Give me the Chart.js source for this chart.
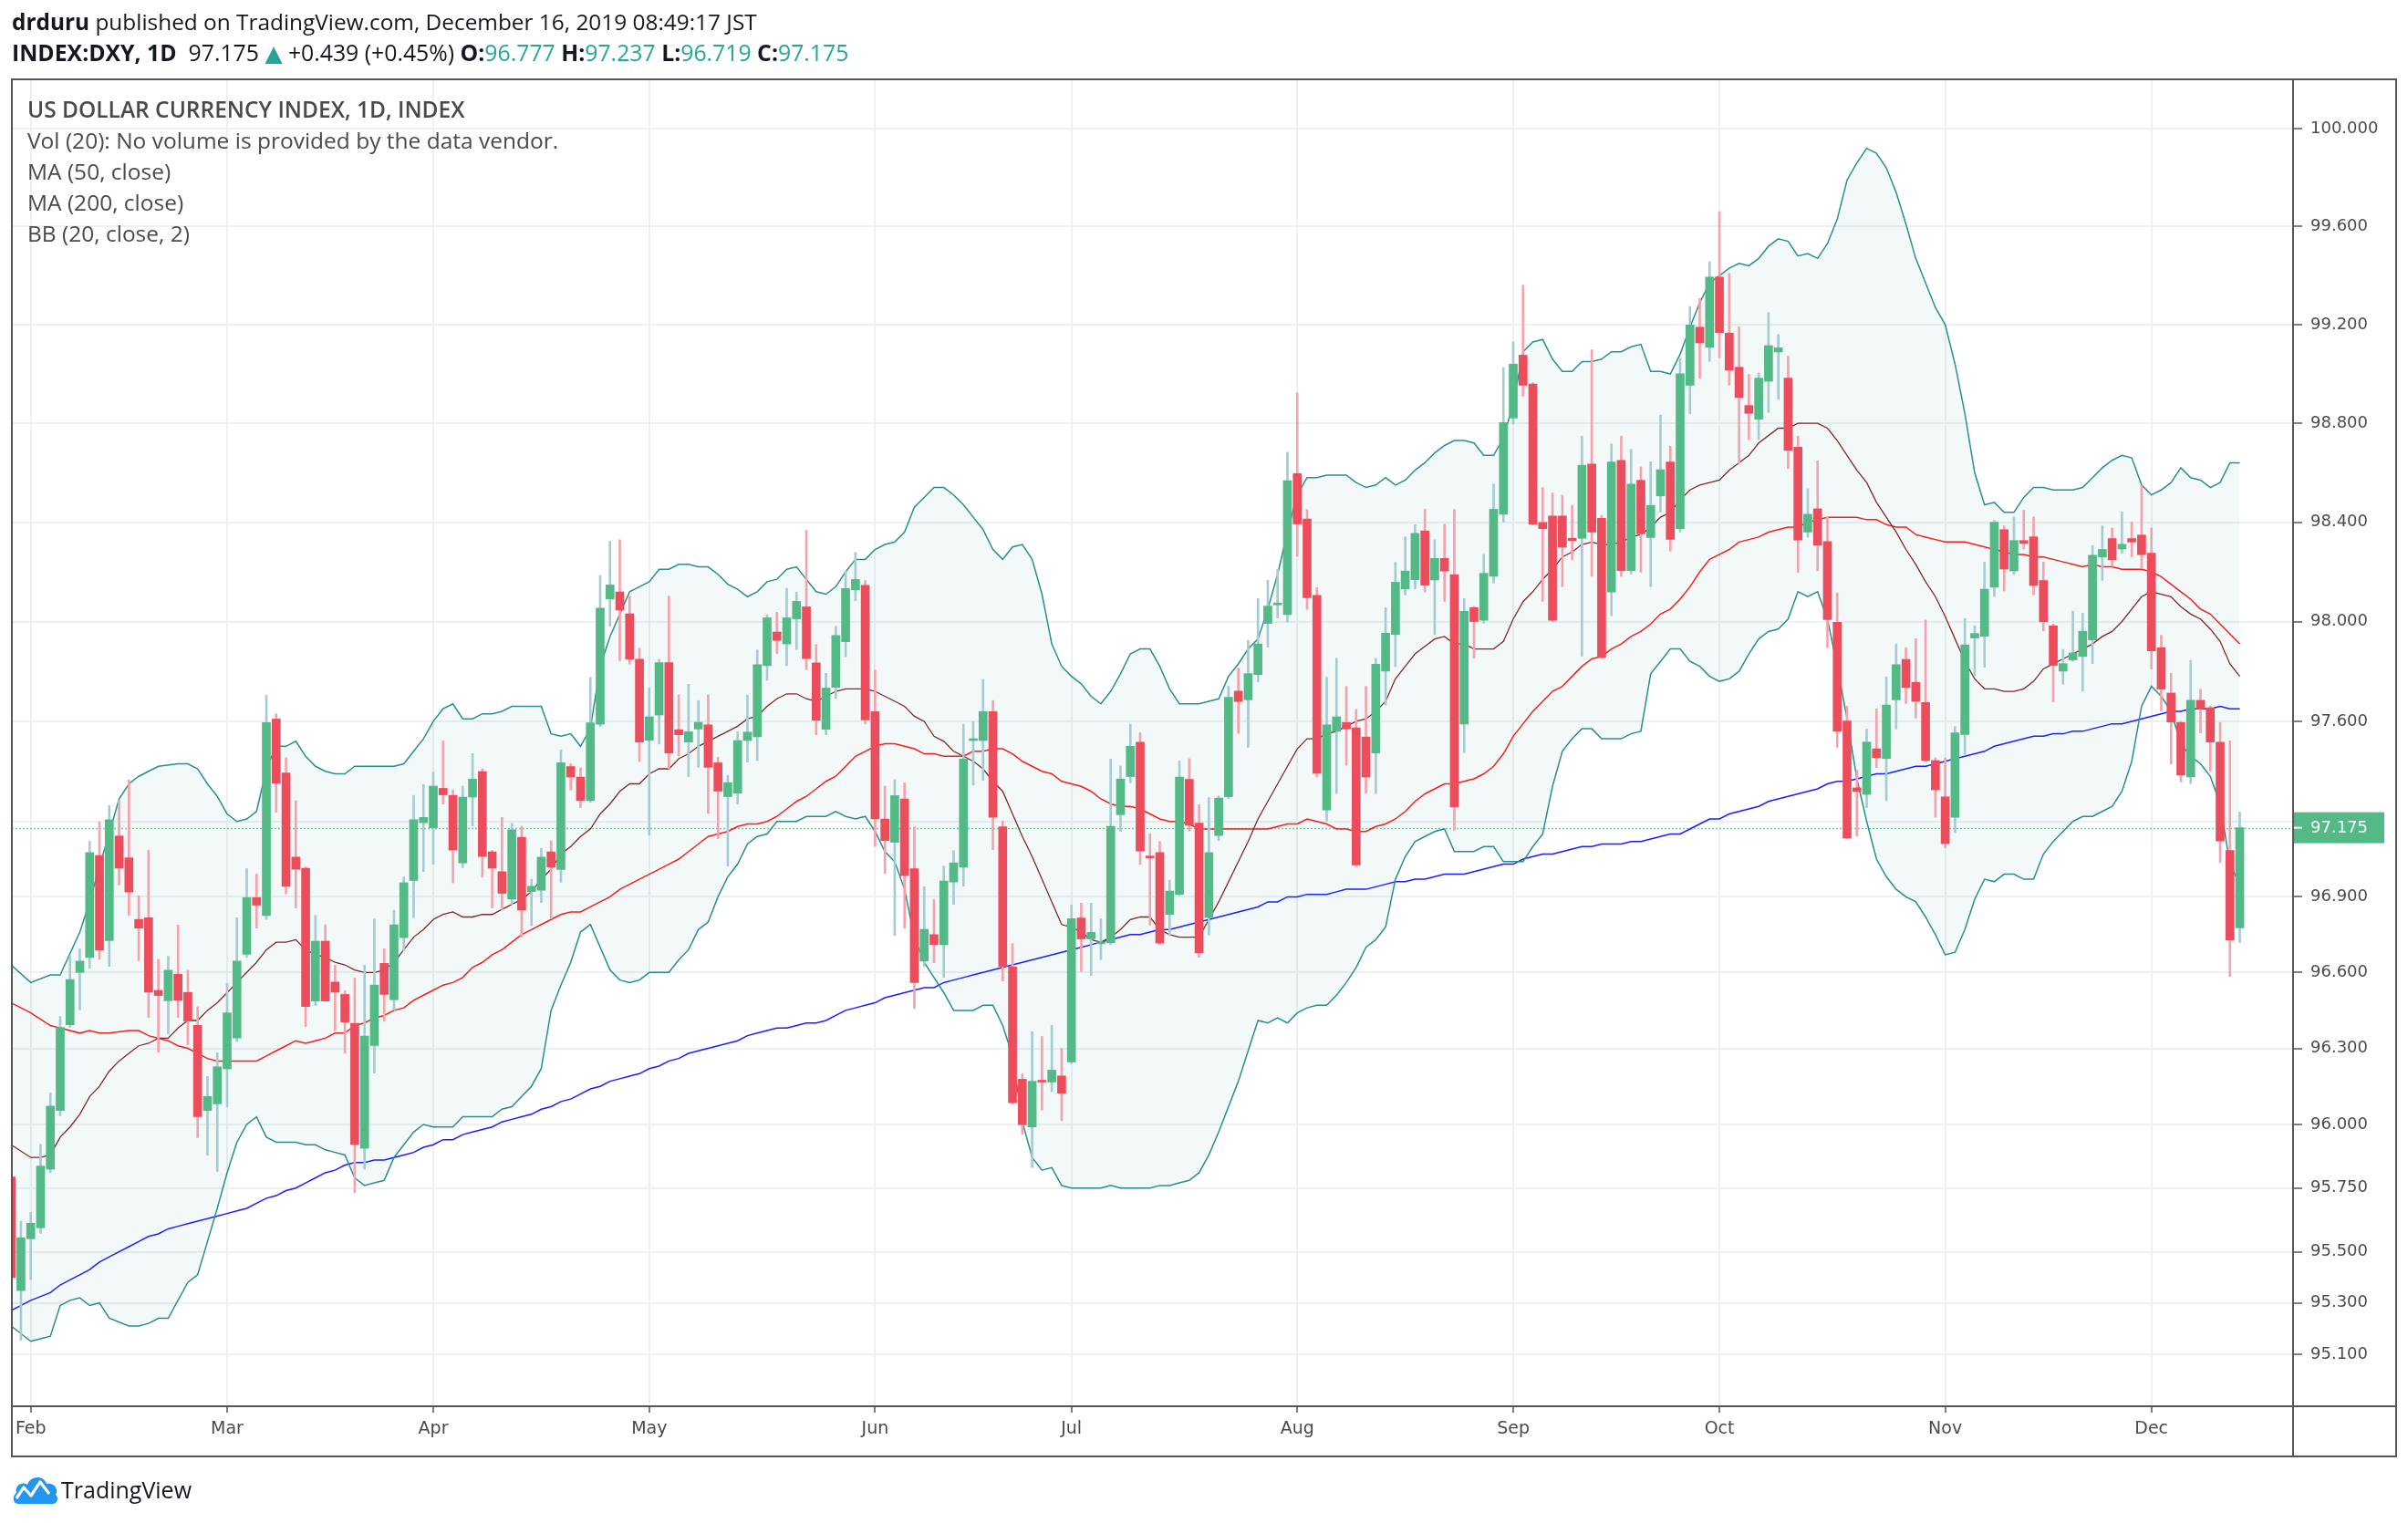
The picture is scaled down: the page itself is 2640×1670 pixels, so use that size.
<!DOCTYPE html>
<html><head><meta charset="utf-8">
<script src="https://cdn.jsdelivr.net/npm/chart.js@4.4.1/dist/chart.umd.min.js"></script>
<style>
html,body{margin:0;padding:0;background:#fff;}
#wrap{position:relative;width:2640px;height:1670px;overflow:hidden;background:#fff;}
#c{position:absolute;left:0;top:0;z-index:1;}
.t{position:absolute;white-space:nowrap;font-family:'Open Sans',sans-serif;z-index:2;}
.g{color:#26a69a;}
.lg{left:30px;font-size:24.5px;color:#4a4a4a;line-height:34px;}
</style></head><body>
<div id="wrap">
<canvas id="c" width="2640" height="1670"></canvas>
<div class="t" style="left:13px;top:8px;font-size:24.4px;line-height:32px;color:#131722"><b>drduru</b> published on TradingView.com, December 16, 2019 08:49:17 JST</div>
<div class="t" style="left:13px;top:41px;font-size:24.8px;line-height:32px;color:#131722"><b>INDEX:DXY, 1D</b>&nbsp; 97.175 <span class="g" style="font-family:'DejaVu Sans'">▲</span> +0.439 (+0.45%) <b>O:</b><span class="g">96.777</span> <b>H:</b><span class="g">97.237</span> <b>L:</b><span class="g">96.719</span> <b>C:</b><span class="g">97.175</span></div>
<div class="t lg" style="top:103px;">
<div style="font-weight:600">US DOLLAR CURRENCY INDEX, 1D, INDEX</div>
<div>Vol (20): No volume is provided by the data vendor.</div>
<div>MA (50, close)</div>
<div>MA (200, close)</div>
<div>BB (20, close, 2)</div>
</div>
<svg width="52" height="34" viewBox="0 0 52 34" style="position:absolute;left:13px;top:1616px;z-index:2">
<path d="M7 33 C1 33 0 24 5 21 C3 12 12 8 17 12 C20 2 35 1 38 11 C46 9 52 17 48 23 C53 28 48 34 43 33 Z" fill="#2196f3"/>
<polyline points="5,27 13,15 21,24 31,9 41,22" fill="none" stroke="#fff" stroke-width="3.2" stroke-linejoin="round"/>
</svg>
<div class="t" style="left:67px;top:1616px;font-size:25px;line-height:34px;color:#131722">TradingView</div>
</div>
<script>
// ---- data: daily candles, first candle index = -2 (Jan 30, 2019); index 0 = Feb 1, 2019 ----
const firstIndex = -2;
const openP = [
95.793,95.348,95.551,95.594,95.824,96.055,96.393,96.600,96.659,97.064,
96.726,97.142,97.055,96.810,96.817,96.529,96.488,96.593,96.521,96.391,
96.055,96.081,96.219,96.341,96.672,96.897,96.826,97.609,97.393,97.058,
97.014,96.487,96.724,96.562,96.513,96.399,95.906,96.311,96.636,96.492,
96.738,96.965,97.195,97.174,97.332,97.304,97.035,97.297,97.399,97.079,
97.000,96.891,97.137,96.921,96.926,97.079,97.009,97.419,97.377,97.283,
97.588,98.091,98.119,98.031,97.849,97.524,97.625,97.835,97.566,97.517,
97.569,97.586,97.434,97.299,97.313,97.523,97.538,97.823,97.958,97.910,
98.011,98.059,97.834,97.568,97.736,97.919,98.127,98.146,97.639,97.210,
97.117,97.290,97.012,96.645,96.750,96.710,96.959,97.018,97.523,97.523,
97.639,97.179,96.623,96.178,95.990,96.172,96.167,96.191,96.246,96.816,
96.733,96.714,96.718,97.227,97.379,97.516,97.062,97.076,96.830,96.910,
97.368,97.193,96.818,97.144,97.298,97.721,97.686,97.787,97.992,98.067,
98.028,98.596,98.413,98.105,97.246,97.560,97.595,97.574,97.537,97.473,
97.801,97.948,98.131,98.168,98.365,98.167,98.254,98.189,97.589,98.056,
98.005,98.182,98.432,98.821,99.076,98.959,98.399,98.425,98.425,98.335,
98.335,98.635,98.416,98.119,98.650,98.205,98.569,98.338,98.506,98.643,
98.374,98.954,99.190,99.108,99.394,99.166,99.027,98.872,98.816,98.970,
99.089,98.983,98.703,98.360,98.454,98.322,97.997,97.601,97.334,97.308,
97.490,97.451,97.686,97.848,97.756,97.675,97.443,97.298,97.217,97.547,
97.934,97.941,98.138,98.370,98.204,98.326,98.341,98.165,97.983,97.801,
97.846,97.860,97.926,98.260,98.334,98.292,98.334,98.348,98.275,97.895,
97.713,97.595,97.378,97.684,97.654,97.516,97.084,96.777];
const highP = [
95.820,95.620,95.655,95.922,96.124,96.426,96.664,96.693,97.121,97.199,
97.264,97.285,97.366,96.904,97.086,96.652,96.664,96.788,96.609,96.464,
96.189,96.283,96.557,96.817,97.012,96.990,97.704,97.630,97.454,97.283,
97.019,96.826,96.789,96.629,96.527,96.578,96.629,96.812,96.694,96.847,
96.979,97.304,97.348,97.397,97.522,97.325,97.341,97.471,97.410,97.084,
97.216,97.193,97.181,96.970,97.093,97.123,97.485,97.430,97.414,97.776,
98.185,98.323,98.329,98.102,97.893,97.733,97.848,98.102,97.706,97.748,
97.683,97.706,97.457,97.384,97.558,97.705,97.886,98.028,98.037,98.133,
98.118,98.367,97.908,97.792,97.981,98.203,98.278,98.165,97.806,97.341,
97.367,97.354,97.179,96.940,96.889,97.022,97.084,97.588,97.599,97.768,
97.683,97.202,96.714,96.199,96.366,96.347,96.391,96.300,96.868,96.875,
96.875,96.813,97.449,97.421,97.588,97.554,97.150,97.120,96.966,97.441,
97.450,97.267,97.295,97.302,97.740,97.813,97.924,98.093,98.166,98.210,
98.683,98.923,98.451,98.137,97.777,97.852,97.740,97.648,97.740,97.852,
98.056,98.238,98.341,98.390,98.452,98.329,98.392,98.452,98.092,98.060,
98.270,98.554,99.026,99.130,99.361,98.965,98.540,98.518,98.509,98.468,
98.747,99.098,98.428,98.716,98.747,98.695,98.623,98.644,98.833,98.707,
99.062,99.274,99.307,99.456,99.661,99.409,99.192,98.998,99.004,99.249,
99.160,99.072,98.748,98.535,98.648,98.422,98.115,97.660,97.404,97.569,
97.650,97.778,97.910,97.895,97.931,98.006,97.454,97.454,97.579,98.012,
97.983,98.239,98.407,98.385,98.421,98.449,98.421,98.239,97.990,97.888,
98.042,98.034,98.306,98.385,98.377,98.442,98.400,98.549,98.377,97.945,
97.792,97.600,97.844,97.728,97.661,97.595,97.522,97.237];
const lowP = [
95.370,95.154,95.391,95.572,95.810,96.034,96.383,96.452,96.617,96.652,
96.624,96.947,96.826,96.647,96.422,96.284,96.357,96.422,96.314,95.948,
95.879,95.815,96.069,96.327,96.659,96.776,96.810,97.237,96.912,96.856,
96.386,96.469,96.487,96.369,96.281,95.731,95.824,96.202,96.407,96.451,
96.685,96.817,97.000,97.030,97.269,96.956,97.016,97.181,96.979,96.856,
96.849,96.870,96.741,96.785,96.877,96.812,96.958,97.325,97.255,97.276,
97.579,97.981,97.843,97.829,97.439,97.145,97.509,97.411,97.461,97.378,
97.416,97.232,97.131,97.022,97.269,97.437,97.443,97.764,97.872,97.823,
97.888,97.807,97.546,97.546,97.691,97.858,98.084,97.590,97.101,96.993,
96.746,96.775,96.457,96.623,96.638,96.581,96.870,96.942,97.345,97.364,
97.088,96.566,96.080,95.961,95.830,96.057,96.129,96.015,96.240,96.604,
96.588,96.651,96.710,97.160,97.354,97.029,96.788,96.710,96.748,96.905,
97.162,96.660,96.748,97.123,97.290,97.551,97.496,97.758,97.897,98.014,
97.997,98.262,98.049,97.377,97.202,97.312,97.424,97.020,97.312,97.312,
97.665,97.819,98.107,98.131,98.119,97.948,98.081,97.165,97.474,97.852,
97.993,98.155,98.401,98.797,98.909,98.389,98.081,98.000,98.140,98.248,
97.861,98.182,97.850,98.023,98.182,98.191,98.198,98.140,98.441,98.284,
98.360,98.839,98.983,99.051,99.066,98.955,98.637,98.733,98.733,98.844,
98.897,98.616,98.198,98.339,98.204,97.895,97.496,97.130,97.142,97.255,
97.415,97.283,97.569,97.671,97.613,97.440,97.217,97.095,97.155,97.468,
97.782,97.817,98.101,98.123,98.189,98.292,98.108,97.962,97.678,97.749,
97.840,97.721,97.831,98.165,98.222,98.275,98.260,98.215,97.809,97.642,
97.429,97.358,97.351,97.553,97.401,97.036,96.584,96.719];
const closeP = [
95.399,95.555,95.612,95.836,96.072,96.383,96.572,96.645,97.076,96.688,
97.207,97.014,96.919,96.776,96.522,96.509,96.609,96.490,96.408,96.031,
96.110,96.227,96.440,96.645,96.897,96.867,97.595,97.352,96.942,97.010,
96.465,96.724,96.487,96.522,96.404,95.921,96.348,96.550,96.513,96.789,
96.956,97.207,97.216,97.341,97.306,97.086,97.297,97.369,97.060,97.014,
96.914,97.167,96.847,96.942,97.058,97.018,97.434,97.377,97.283,97.594,
98.054,98.147,98.046,97.849,97.517,97.618,97.835,97.473,97.546,97.558,
97.596,97.416,97.321,97.355,97.523,97.557,97.827,98.015,97.924,98.015,
98.081,97.851,97.604,97.733,97.944,98.133,98.169,97.605,97.210,97.124,
97.303,96.984,96.560,96.771,96.710,96.963,97.035,97.449,97.529,97.639,
97.217,96.623,96.085,95.999,96.170,96.167,96.214,96.123,96.813,96.733,
96.759,96.721,97.181,97.369,97.500,97.082,97.055,96.716,96.923,97.377,
97.185,96.678,97.076,97.293,97.696,97.679,97.791,97.910,98.062,98.070,
98.568,98.393,98.096,97.392,97.586,97.618,97.569,97.027,97.377,97.829,
97.953,98.158,98.203,98.355,98.146,98.254,98.203,97.258,98.041,98.000,
98.194,98.452,98.803,99.040,98.954,98.392,98.374,98.005,98.299,98.326,
98.630,98.360,97.856,98.643,98.205,98.554,98.353,98.468,98.612,98.331,
99.001,99.199,99.126,99.394,99.168,99.015,98.904,98.840,98.983,99.115,
99.106,98.690,98.328,98.432,98.307,98.008,97.560,97.134,97.319,97.517,
97.454,97.665,97.827,97.735,97.680,97.443,97.326,97.112,97.554,97.906,
97.952,98.130,98.400,98.211,98.326,98.314,98.145,97.999,97.824,97.831,
97.874,97.961,98.267,98.290,98.248,98.311,98.320,98.269,97.882,97.729,
97.597,97.385,97.684,97.649,97.517,97.122,96.729,97.175];
// Bollinger Bands (20, close, 2)
const bbUpper = [
96.63,null,96.56,null,96.59,96.59,null,96.76,96.88,97.02,
null,97.29,97.35,97.38,null,97.42,null,97.43,97.43,97.41,
97.35,97.30,97.23,97.20,97.21,97.24,97.41,97.50,97.50,97.52,
97.46,97.42,97.40,97.39,97.39,97.42,97.42,97.42,97.42,97.42,
97.43,97.48,97.53,97.60,97.65,97.67,97.61,97.61,97.63,97.63,
97.64,97.66,97.66,97.66,97.66,97.55,97.54,97.55,97.50,97.57,
97.82,97.94,98.03,98.12,98.14,98.16,98.21,98.21,98.23,98.23,
98.22,98.22,98.19,98.15,98.13,98.10,98.12,98.16,98.17,98.21,
98.22,98.17,98.12,98.11,98.14,98.20,98.25,98.25,98.29,98.31,
98.32,98.36,98.46,98.50,98.54,98.54,98.51,98.47,98.42,98.37,
98.29,98.25,98.30,98.31,98.25,98.11,97.91,97.82,97.78,97.75,
97.70,97.67,97.72,97.79,97.87,97.89,97.89,97.82,97.73,97.67,
97.67,97.67,97.68,97.69,97.78,97.83,97.89,97.93,98.05,98.19,
98.36,98.51,98.58,98.58,98.59,98.59,98.59,98.56,98.54,98.55,
98.58,98.55,98.57,98.61,98.64,98.68,98.71,98.73,98.73,98.72,
98.67,98.67,98.74,98.88,99.09,99.13,99.14,99.06,99.01,99.01,
99.05,99.05,99.06,99.09,99.09,99.11,99.12,99.01,99.01,99.00,
99.08,99.19,99.29,99.37,99.40,99.43,99.45,99.44,99.47,99.52,
99.55,99.54,99.48,99.49,99.47,99.53,99.63,99.79,99.86,99.92,
99.90,99.84,99.74,99.61,99.47,99.37,99.27,99.20,99.04,98.84,
98.60,98.47,98.48,98.44,98.44,98.50,98.54,98.54,98.53,98.53,
98.53,98.54,98.58,98.62,98.65,98.67,98.66,98.55,98.51,98.53,
98.56,98.62,98.58,98.57,98.54,98.56,98.64,98.64];
const bbLower = [
95.21,null,95.15,95.16,95.17,95.29,95.31,95.32,95.29,95.30,
95.24,null,95.21,95.21,95.22,95.24,95.24,95.31,95.38,95.41,
95.54,95.67,95.81,95.93,96.00,96.03,95.95,95.93,95.93,95.93,
95.92,95.92,95.90,95.89,95.88,95.79,95.76,95.77,95.78,95.87,
95.92,95.97,96.00,95.99,95.99,95.99,96.03,96.03,96.03,96.03,
96.06,96.07,96.11,96.15,96.22,96.45,96.55,96.64,96.76,96.79,
96.70,96.61,96.57,96.56,96.57,96.60,96.60,96.60,96.65,96.69,
96.77,96.80,96.90,96.98,97.03,97.11,97.14,97.15,97.20,97.20,
97.20,97.22,97.22,97.22,97.24,97.22,97.21,97.22,97.16,97.08,
97.04,96.93,96.74,96.64,96.58,96.52,96.45,96.45,96.45,96.47,
96.47,96.39,96.27,96.01,95.87,95.82,95.83,95.76,95.75,95.75,
95.75,95.75,95.76,95.75,95.75,95.75,95.75,95.76,95.76,95.77,
95.78,95.81,95.88,95.97,96.07,96.17,96.29,96.41,96.40,96.42,
96.40,96.44,96.46,96.47,96.47,96.51,96.56,96.62,96.70,96.73,
96.78,96.97,97.06,97.12,97.14,97.16,97.17,97.08,97.08,97.08,
97.10,97.10,97.04,97.04,97.04,97.10,97.15,97.34,97.48,97.53,
97.57,97.57,97.53,97.53,97.53,97.55,97.56,97.79,97.84,97.89,
97.89,97.84,97.82,97.78,97.76,97.77,97.80,97.87,97.93,97.96,
97.97,98.01,98.12,98.10,98.12,98.01,97.82,97.61,97.37,97.20,
97.05,96.98,96.93,96.90,96.88,96.82,96.75,96.67,96.68,96.77,
96.89,96.97,96.96,96.99,96.99,96.97,96.97,97.07,97.12,97.16,
97.20,97.22,97.22,97.24,97.26,97.32,97.44,97.66,97.74,97.70,
97.64,97.51,97.46,97.43,97.38,97.27,97.03,96.95];
const bbBasis = [
95.92,null,95.87,95.87,95.88,95.95,95.99,96.04,96.11,96.15,
96.21,96.25,96.28,96.31,96.32,96.34,96.34,96.38,96.41,96.41,
96.45,96.48,96.52,96.56,96.60,96.64,96.69,96.72,96.72,96.73,
96.69,96.67,96.66,96.64,96.63,96.61,96.60,96.60,96.61,96.64,
96.69,96.74,96.77,96.81,96.83,96.84,96.82,96.82,96.83,96.83,
96.85,96.87,96.89,96.92,96.97,97.01,97.07,97.10,97.14,97.17,
97.23,97.27,97.32,97.35,97.35,97.39,97.41,97.41,97.45,97.47,
97.50,97.52,97.54,97.56,97.58,97.61,97.62,97.66,97.69,97.71,
97.71,97.69,97.68,97.70,97.72,97.73,97.73,97.73,97.72,97.70,
97.68,97.66,97.62,97.60,97.54,97.52,97.48,97.46,97.44,97.41,
97.36,97.32,97.23,97.14,97.06,96.97,96.88,96.79,96.78,96.76,
96.73,96.72,96.74,96.77,96.81,96.82,96.82,96.77,96.75,96.74,
96.74,96.74,96.81,96.88,96.96,97.04,97.12,97.21,97.28,97.35,
97.42,97.49,97.53,97.53,97.55,97.56,97.58,97.60,97.61,97.64,
97.68,97.77,97.82,97.87,97.90,97.93,97.94,97.91,97.91,97.89,
97.89,97.89,97.92,98.01,98.08,98.12,98.17,98.21,98.26,98.28,
98.31,98.32,98.31,98.31,98.32,98.34,98.35,98.38,98.42,98.44,
98.49,98.53,98.55,98.56,98.57,98.61,98.64,98.67,98.72,98.75,
98.78,98.78,98.80,98.80,98.80,98.78,98.73,98.67,98.61,98.56,
98.48,98.42,98.36,98.29,98.23,98.16,98.10,98.02,97.93,97.84,
97.77,97.73,97.73,97.72,97.72,97.73,97.76,97.81,97.83,97.85,
97.87,97.89,97.91,97.94,97.96,98.00,98.05,98.10,98.12,98.11,
98.10,98.06,98.03,98.01,97.97,97.92,97.83,97.78];
const ma50 = [
96.48,null,96.44,null,96.39,96.38,null,96.36,96.37,96.36,
96.36,null,96.37,96.37,96.35,96.34,96.33,96.31,96.30,96.28,
96.26,96.25,96.25,96.25,96.25,96.25,96.27,96.29,96.31,96.33,
96.32,96.33,96.34,96.36,96.36,96.39,96.40,96.42,96.43,96.45,
96.46,96.49,96.51,96.53,96.55,96.56,96.58,96.62,96.64,96.67,
96.69,96.72,96.75,96.77,96.79,96.81,96.83,96.84,96.84,96.86,
96.88,96.90,96.93,96.95,96.97,96.99,97.01,97.03,97.05,97.08,
97.11,97.14,97.15,97.16,97.18,97.19,97.19,97.20,97.22,97.25,
97.28,97.30,97.33,97.36,97.38,97.42,97.46,97.48,97.50,97.51,
97.51,97.50,97.49,97.47,97.47,97.46,97.46,97.46,97.48,97.48,
97.49,97.49,97.47,97.44,97.42,97.40,97.39,97.36,97.35,97.34,
97.32,97.29,97.27,97.26,97.26,97.25,97.23,97.21,97.20,97.20,
97.19,97.17,97.17,97.17,97.17,97.17,97.17,97.17,97.17,97.18,
97.19,97.19,97.21,97.20,97.19,97.17,97.17,97.16,97.16,97.18,
97.19,97.21,97.24,97.28,97.31,97.33,97.35,97.35,97.36,97.37,
97.39,97.42,97.47,97.54,97.59,97.64,97.68,97.72,97.74,97.78,
97.82,97.85,97.86,97.89,97.91,97.94,97.96,97.99,98.03,98.05,
98.09,98.14,98.20,98.25,98.27,98.29,98.32,98.33,98.34,98.36,
98.37,98.38,98.38,98.40,98.41,98.42,98.42,98.42,98.42,98.41,
98.41,98.39,98.38,98.38,98.35,98.34,98.33,98.32,98.32,98.32,
98.31,98.30,98.29,98.28,98.27,98.27,98.26,98.26,98.25,98.24,
98.23,98.22,98.23,98.22,98.22,98.21,98.21,98.21,98.20,98.18,
98.15,98.12,98.09,98.05,98.03,97.99,97.95,97.91];
const ma200 = [
95.27,null,95.31,null,95.34,95.37,95.39,95.41,95.43,95.46,
95.48,null,95.52,95.54,95.56,95.57,95.59,95.60,95.61,95.62,
95.63,95.64,95.65,95.66,95.67,95.69,95.71,95.72,95.74,95.75,
95.77,95.79,95.81,95.82,95.84,95.85,95.85,95.86,95.86,95.87,
95.88,95.89,95.91,95.92,95.94,95.94,95.96,95.97,95.98,95.99,
96.01,96.02,96.03,96.04,96.06,96.07,96.09,96.10,96.12,96.14,
96.15,96.17,96.18,96.19,96.20,96.22,96.23,96.25,96.26,96.28,
96.29,96.30,96.31,96.32,96.33,96.35,96.36,96.37,96.38,96.38,
96.39,96.40,96.40,96.41,96.43,96.45,96.46,96.47,96.48,96.50,
96.51,96.52,96.53,96.54,96.54,96.56,96.57,96.58,96.59,96.60,
96.61,96.62,96.63,96.64,96.65,96.66,96.67,96.68,96.69,96.70,
96.71,96.72,96.73,96.74,96.75,96.75,96.76,96.77,96.77,96.78,
96.79,96.80,96.81,96.82,96.83,96.84,96.85,96.86,96.88,96.88,
96.90,96.90,96.91,96.91,96.91,96.92,96.93,96.93,96.93,96.94,
96.95,96.96,96.96,96.97,96.97,96.98,96.99,96.99,96.99,97.00,
97.01,97.02,97.03,97.03,97.05,97.06,97.07,97.07,97.08,97.09,
97.10,97.10,97.11,97.11,97.11,97.12,97.12,97.13,97.14,97.15,
97.15,97.17,97.19,97.21,97.21,97.23,97.24,97.25,97.26,97.28,
97.29,97.30,97.31,97.32,97.33,97.35,97.36,97.36,97.37,97.38,
97.39,97.39,97.40,97.41,97.42,97.42,97.43,97.44,97.45,97.46,
97.47,97.48,97.50,97.51,97.52,97.53,97.54,97.54,97.55,97.55,
97.56,97.56,97.57,97.58,97.59,97.59,97.60,97.61,97.62,97.63,
97.64,97.64,97.65,97.65,97.65,97.66,97.65,97.65];
// time axis: candle index of first trading day of each month
const monthIndex = [0,20,41,63,86,106,129,151,172,195,216];
const monthLabels = ['Feb','Mar','Apr','May','Jun','Jul','Aug','Sep','Oct','Nov','Dec'];
// price axis ticks (log scale)
const priceTicks = [100,99.6,99.2,98.8,98.4,98.0,97.6,97.2,96.9,96.6,96.3,96.0,95.75,95.5,95.3,95.1];
const hiddenTickLabels = [97.2];
const lastClose = closeP[closeP.length-1];

// ---- styles ----
const UP='#53b987', DN='#eb4d5c', UPW='#a6cbd1', DNW='#f4a3ad';
const GRID='#edf1f4', AXIS='#555555', TXT='#4a4a4a';

const idx = openP.map((_,k)=>firstIndex+k);
const isUp = idx.map((_,k)=>closeP[k]>=openP[k]);
const bodies = idx.map((x,k)=>({x, y:[openP[k], closeP[k]]}));
const wicks = idx.map((x,k)=>({x, y:[lowP[k], highP[k]]}));
const pts = arr => idx.map((x,k)=>({x, y:arr[k]})).filter(p=>p.y!==null);

const lineDs = (data, color, width, extra) => Object.assign({
  type:'line', data, borderColor:color, borderWidth:width, pointRadius:0,
  tension:0, fill:false, order:3, spanGaps:true
}, extra||{});

const chromePlugin = {
  id:'chrome',
  beforeDatasetsDraw(chart){
    const {ctx, chartArea:a, scales:{y}} = chart;
    const py = Math.round(y.getPixelForValue(lastClose))+0.5;
    ctx.save();
    ctx.strokeStyle='rgba(83,185,135,0.75)';
    ctx.lineWidth=1.5;
    ctx.setLineDash([2,2]);
    ctx.beginPath(); ctx.moveTo(a.left,py); ctx.lineTo(a.right,py); ctx.stroke();
    ctx.restore();
  },
  afterDraw(chart){
    const {ctx, chartArea:a, scales:{y}} = chart;
    ctx.save();
    ctx.strokeStyle=AXIS; ctx.lineWidth=2;
    ctx.strokeRect(13,87,2627-13,1597-87);
    ctx.beginPath(); ctx.moveTo(13,1542); ctx.lineTo(2627,1542); ctx.stroke();
    ctx.beginPath(); ctx.moveTo(2514,87); ctx.lineTo(2514,1597); ctx.stroke();
    // last price label
    const py = y.getPixelForValue(lastClose);
    ctx.fillStyle=UP;
    ctx.fillRect(2515, py-17, 99, 34);
    ctx.strokeStyle='#ffffff'; ctx.lineWidth=2;
    ctx.beginPath(); ctx.moveTo(2515,py); ctx.lineTo(2524,py); ctx.stroke();
    ctx.fillStyle='#ffffff';
    ctx.font='18px "DejaVu Sans"';
    ctx.textBaseline='middle'; ctx.textAlign='left';
    ctx.fillText(lastClose.toFixed(3), 2533, py+1);
    ctx.restore();
  }
};

new Chart(document.getElementById('c'), {
  type:'bar',
  data:{ datasets:[
    lineDs(pts(bbUpper), '#2b8e8e', 1.5, {fill:{target:'+1'}, backgroundColor:'rgba(19,132,132,0.05)'}),
    lineDs(pts(bbLower), '#2b8e8e', 1.5),
    lineDs(pts(bbBasis), '#872323', 1.3),
    lineDs(pts(ma50), '#ff1a1a', 1.5),
    lineDs(pts(ma200), '#1c1cff', 1.5),
    {type:'bar', data:wicks, backgroundColor:isUp.map(u=>u?UPW:DNW), barThickness:2, grouped:false, order:2},
    {type:'bar', data:bodies, backgroundColor:isUp.map(u=>u?UP:DN), barThickness:9, minBarLength:2, grouped:false, order:1}
  ]},
  options:{
    responsive:false, animation:false, devicePixelRatio:1,
    layout:{padding:{left:13, top:87, right:13, bottom:73}},
    plugins:{legend:{display:false}, tooltip:{enabled:false}},
    scales:{
      x:{
        type:'linear', min:-1.923, max:230.43, offset:false,
        afterBuildTicks:s=>{ s.ticks = monthIndex.map(v=>({value:v})); },
        afterFit:s=>{ s.height=55; s.paddingLeft=0; s.paddingRight=0; },
        ticks:{ autoSkip:false, maxRotation:0, minRotation:0, padding:7,
          callback:v=>{ const k=monthIndex.indexOf(v); return k<0?'':monthLabels[k]; },
          font:{family:'DejaVu Sans', size:19}, color:TXT },
        grid:{ color:GRID, lineWidth:2, drawTicks:true, tickLength:7, tickColor:AXIS, tickWidth:1.5, offset:false },
        border:{display:false}
      },
      y:{
        type:'logarithmic', position:'right', min:94.897, max:100.203, beginAtZero:false,
        afterBuildTicks:s=>{ s.ticks = priceTicks.map(v=>({value:v})); },
        afterFit:s=>{ s.width=113; s.paddingTop=0; s.paddingBottom=0; },
        ticks:{ autoSkip:false, padding:9,
          callback:v=> hiddenTickLabels.includes(v) ? '' : Number(v).toFixed(3),
          font:{family:'DejaVu Sans', size:18}, color:TXT },
        grid:{ color:GRID, lineWidth:2, drawTicks:true, tickLength:10, tickColor:AXIS, tickWidth:1.5 },
        border:{display:false}
      }
    }
  },
  plugins:[chromePlugin]
});
</script>
</body></html>
